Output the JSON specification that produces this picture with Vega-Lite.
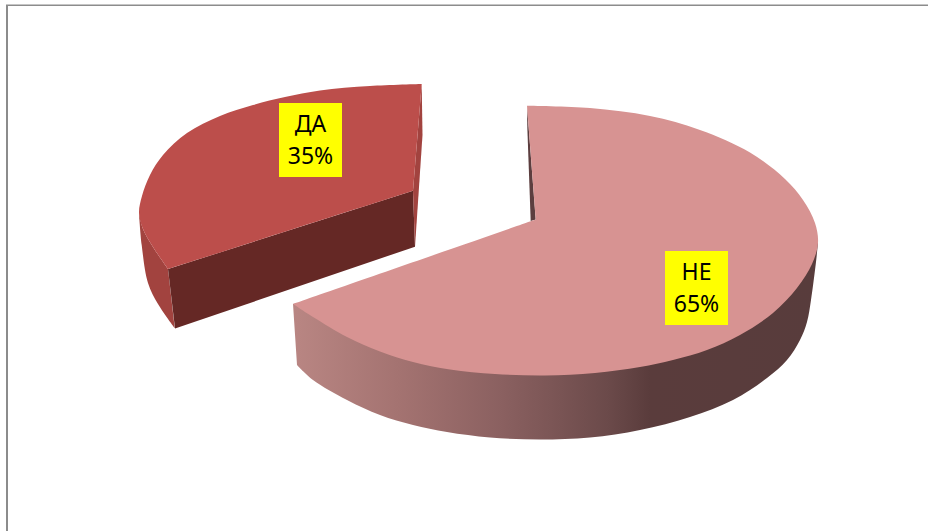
{
  "$schema": "https://vega.github.io/schema/vega-lite/v6.json",
  "width": 928,
  "height": 531,
  "padding": 0,
  "autosize": "none",
  "background": "white",
  "config": {"view": {"stroke": null}},
  "datasets": {
    "frame": [
      {"edge": "top", "x0": 6, "x1": 928, "y0": 5.3, "y1": 5.3},
      {"edge": "left", "x0": 7, "x1": 7, "y0": 5, "y1": 531}
    ],
    "shares": [
      {"category": "ДА", "share": 35, "left": 279, "right": 342, "top": 103, "bottom": 177},
      {"category": "НЕ", "share": 65, "left": 665, "right": 728, "top": 251, "bottom": 325}
    ],
    "outlines": [
      {"part": "da-outer", "seq": 1, "x": 139, "y": 213},
      {"part": "da-outer", "seq": 2, "x": 143, "y": 229},
      {"part": "da-outer", "seq": 3, "x": 153, "y": 247},
      {"part": "da-outer", "seq": 4, "x": 168, "y": 269},
      {"part": "da-outer", "seq": 5, "x": 168, "y": 269},
      {"part": "da-outer", "seq": 6, "x": 175, "y": 328.5},
      {"part": "da-outer", "seq": 7, "x": 175, "y": 328.5},
      {"part": "da-outer", "seq": 8, "x": 158, "y": 304},
      {"part": "da-outer", "seq": 9, "x": 148, "y": 283},
      {"part": "da-outer", "seq": 10, "x": 141.7, "y": 245},
      {"part": "da-outer", "seq": 11, "x": 139, "y": 213},

      {"part": "da-cut", "seq": 1, "x": 168, "y": 269},
      {"part": "da-cut", "seq": 2, "x": 413, "y": 190.7},
      {"part": "da-cut", "seq": 3, "x": 415, "y": 246.7},
      {"part": "da-cut", "seq": 4, "x": 175, "y": 328.5},

      {"part": "da-side", "seq": 1, "x": 421.7, "y": 84},
      {"part": "da-side", "seq": 2, "x": 422.5, "y": 135},
      {"part": "da-side", "seq": 3, "x": 415, "y": 246.7},
      {"part": "da-side", "seq": 4, "x": 413, "y": 190.7},

      {"part": "da-top", "seq": 1, "x": 413, "y": 190.7},
      {"part": "da-top", "seq": 2, "x": 168, "y": 269},
      {"part": "da-top", "seq": 3, "x": 168, "y": 269},
      {"part": "da-top", "seq": 4, "x": 153, "y": 247},
      {"part": "da-top", "seq": 5, "x": 143, "y": 229},
      {"part": "da-top", "seq": 6, "x": 139, "y": 213},
      {"part": "da-top", "seq": 7, "x": 142, "y": 196},
      {"part": "da-top", "seq": 8, "x": 150, "y": 175},
      {"part": "da-top", "seq": 9, "x": 163, "y": 155},
      {"part": "da-top", "seq": 10, "x": 187, "y": 133},
      {"part": "da-top", "seq": 11, "x": 220, "y": 116},
      {"part": "da-top", "seq": 12, "x": 253, "y": 105},
      {"part": "da-top", "seq": 13, "x": 285, "y": 97},
      {"part": "da-top", "seq": 14, "x": 320, "y": 90.5},
      {"part": "da-top", "seq": 15, "x": 370, "y": 86},
      {"part": "da-top", "seq": 16, "x": 421.7, "y": 84},

      {"part": "ne-inner", "seq": 1, "x": 527, "y": 106},
      {"part": "ne-inner", "seq": 2, "x": 527.3, "y": 127},
      {"part": "ne-inner", "seq": 3, "x": 530.7, "y": 221},
      {"part": "ne-inner", "seq": 4, "x": 535.7, "y": 219.5},

      {"part": "ne-wall", "seq": 1, "x": 293, "y": 304},
      {"part": "ne-wall", "seq": 2, "x": 818, "y": 243},
      {"part": "ne-wall", "seq": 3, "x": 818, "y": 243},
      {"part": "ne-wall", "seq": 4, "x": 816, "y": 262},
      {"part": "ne-wall", "seq": 5, "x": 811, "y": 300},
      {"part": "ne-wall", "seq": 6, "x": 807, "y": 322},
      {"part": "ne-wall", "seq": 7, "x": 800, "y": 340},
      {"part": "ne-wall", "seq": 8, "x": 787, "y": 360},
      {"part": "ne-wall", "seq": 9, "x": 767, "y": 378},
      {"part": "ne-wall", "seq": 10, "x": 733, "y": 400},
      {"part": "ne-wall", "seq": 11, "x": 690, "y": 417},
      {"part": "ne-wall", "seq": 12, "x": 640, "y": 430},
      {"part": "ne-wall", "seq": 13, "x": 590, "y": 437.5},
      {"part": "ne-wall", "seq": 14, "x": 540, "y": 439.5},
      {"part": "ne-wall", "seq": 15, "x": 490, "y": 437.5},
      {"part": "ne-wall", "seq": 16, "x": 447, "y": 432},
      {"part": "ne-wall", "seq": 17, "x": 413, "y": 425},
      {"part": "ne-wall", "seq": 18, "x": 380, "y": 415},
      {"part": "ne-wall", "seq": 19, "x": 347, "y": 400},
      {"part": "ne-wall", "seq": 20, "x": 313, "y": 380},
      {"part": "ne-wall", "seq": 21, "x": 297, "y": 365},

      {"part": "ne-top", "seq": 1, "x": 535.7, "y": 219.5},
      {"part": "ne-top", "seq": 2, "x": 293, "y": 304},
      {"part": "ne-top", "seq": 3, "x": 293, "y": 304},
      {"part": "ne-top", "seq": 4, "x": 313, "y": 317},
      {"part": "ne-top", "seq": 5, "x": 347, "y": 337},
      {"part": "ne-top", "seq": 6, "x": 380, "y": 351.5},
      {"part": "ne-top", "seq": 7, "x": 413, "y": 362},
      {"part": "ne-top", "seq": 8, "x": 450, "y": 369.5},
      {"part": "ne-top", "seq": 9, "x": 495, "y": 374},
      {"part": "ne-top", "seq": 10, "x": 545, "y": 375.5},
      {"part": "ne-top", "seq": 11, "x": 595, "y": 373},
      {"part": "ne-top", "seq": 12, "x": 640, "y": 367},
      {"part": "ne-top", "seq": 13, "x": 673, "y": 360},
      {"part": "ne-top", "seq": 14, "x": 707, "y": 350},
      {"part": "ne-top", "seq": 15, "x": 740, "y": 335},
      {"part": "ne-top", "seq": 16, "x": 773, "y": 313},
      {"part": "ne-top", "seq": 17, "x": 797, "y": 288},
      {"part": "ne-top", "seq": 18, "x": 812, "y": 264},
      {"part": "ne-top", "seq": 19, "x": 818, "y": 243},
      {"part": "ne-top", "seq": 20, "x": 815, "y": 223},
      {"part": "ne-top", "seq": 21, "x": 803, "y": 200},
      {"part": "ne-top", "seq": 22, "x": 785, "y": 179},
      {"part": "ne-top", "seq": 23, "x": 750, "y": 152.5},
      {"part": "ne-top", "seq": 24, "x": 700, "y": 130},
      {"part": "ne-top", "seq": 25, "x": 650, "y": 116},
      {"part": "ne-top", "seq": 26, "x": 590, "y": 108},
      {"part": "ne-top", "seq": 27, "x": 527, "y": 105.7}
    ]
  },
  "encoding": {
    "x": {"field": "x", "type": "quantitative", "axis": null, "scale": {"domain": [0, 928], "nice": false, "zero": false}},
    "y": {"field": "y", "type": "quantitative", "axis": null, "scale": {"domain": [531, 0], "nice": false, "zero": false}},
    "order": {"field": "seq", "type": "quantitative"}
  },
  "layer": [
    {
      "data": {"name": "frame"},
      "transform": [{"filter": "datum.edge === 'top'"}],
      "mark": {"type": "rule", "stroke": "#8c8c8c", "strokeWidth": 1.5},
      "encoding": {
        "x": {"field": "x0", "type": "quantitative", "axis": null},
        "x2": {"field": "x1"},
        "y": {"field": "y0", "type": "quantitative", "axis": null},
        "y2": {"field": "y1"},
        "order": null
      }
    },
    {
      "data": {"name": "frame"},
      "transform": [{"filter": "datum.edge === 'left'"}],
      "mark": {"type": "rule", "stroke": "#8c8c8c", "strokeWidth": 2},
      "encoding": {
        "x": {"field": "x0", "type": "quantitative", "axis": null},
        "x2": {"field": "x1"},
        "y": {"field": "y0", "type": "quantitative", "axis": null},
        "y2": {"field": "y1"},
        "order": null
      }
    },
    {
      "data": {"name": "outlines"},
      "transform": [{"filter": "datum.part === 'da-outer'"}],
      "mark": {"type": "line", "fill": "#a2433f", "stroke": null, "interpolate": "catmull-rom"}
    },
    {
      "data": {"name": "outlines"},
      "transform": [{"filter": "datum.part === 'da-cut'"}],
      "mark": {"type": "line", "fill": "#652825", "stroke": null}
    },
    {
      "data": {"name": "outlines"},
      "transform": [{"filter": "datum.part === 'da-side'"}],
      "mark": {"type": "line", "fill": "#a2433f", "stroke": null}
    },
    {
      "data": {"name": "outlines"},
      "transform": [{"filter": "datum.part === 'da-top'"}],
      "mark": {"type": "line", "fill": "#bc4e4b", "stroke": null, "interpolate": "catmull-rom"}
    },
    {
      "data": {"name": "outlines"},
      "transform": [{"filter": "datum.part === 'ne-inner'"}],
      "mark": {"type": "line", "fill": "#5c3e3f", "stroke": null}
    },
    {
      "data": {"name": "outlines"},
      "transform": [{"filter": "datum.part === 'ne-wall'"}],
      "mark": {
        "type": "line",
        "stroke": null,
        "interpolate": "catmull-rom",
        "fill": {
          "gradient": "linear", "x1": 0, "y1": 0, "x2": 1, "y2": 0,
          "stops": [
            {"offset": 0, "color": "#b98683"},
            {"offset": 0.2, "color": "#a47371"},
            {"offset": 0.4, "color": "#8a6060"},
            {"offset": 0.6, "color": "#6b4a4a"},
            {"offset": 0.68, "color": "#5a3c3c"},
            {"offset": 1, "color": "#583c3c"}
          ]
        }
      }
    },
    {
      "data": {"name": "outlines"},
      "transform": [{"filter": "datum.part === 'ne-top'"}],
      "mark": {"type": "line", "fill": "#d79392", "stroke": null, "interpolate": "catmull-rom"}
    },
    {
      "data": {"name": "shares"},
      "mark": {"type": "rect", "fill": "#ffff00", "stroke": null},
      "encoding": {
        "x": {"field": "left", "type": "quantitative", "axis": null},
        "x2": {"field": "right"},
        "y": {"field": "top", "type": "quantitative", "axis": null},
        "y2": {"field": "bottom"},
        "order": null
      }
    },
    {
      "data": {"name": "shares"},
      "transform": [
        {"calculate": "(datum.left + datum.right) / 2", "as": "middle"},
        {"calculate": "(datum.top + datum.bottom) / 2", "as": "centre"},
        {"calculate": "datum.category + '\\n' + datum.share + '%'", "as": "caption"}
      ],
      "mark": {
        "type": "text",
        "font": "Noto Sans",
        "fontSize": 23,
        "color": "#000000",
        "align": "center",
        "baseline": "middle",
        "lineBreak": "\n",
        "lineHeight": 32,
        "dy": -15
      },
      "encoding": {
        "x": {"field": "middle", "type": "quantitative", "axis": null},
        "y": {"field": "centre", "type": "quantitative", "axis": null},
        "text": {"field": "caption"},
        "order": null
      }
    }
  ]
}
